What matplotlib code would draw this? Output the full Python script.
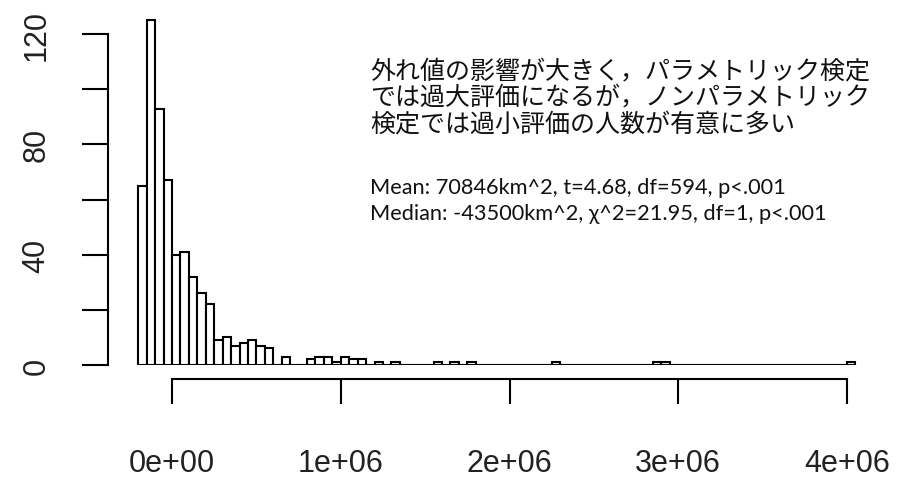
import numpy as np
import matplotlib.pyplot as plt

# histogram of area differences (km^2), 50000-wide bins, R-style hist look
bin_width = 50000
bin_lo, bin_hi = -200000, 4050000

# left edge of every non-empty bin and its count
bin_left = [-200000, -150000, -100000, -50000, 0, 50000, 100000, 150000,
            200000, 250000, 300000, 350000, 400000, 450000, 500000, 550000,
            650000, 800000, 850000, 900000, 950000, 1000000, 1050000, 1100000,
            1200000, 1300000, 1550000, 1650000, 1750000, 2250000, 2850000,
            2900000, 4000000]
counts = [65, 125, 93, 67, 40, 41, 32, 26,
          22, 9, 10, 7, 8, 9, 7, 6,
          3, 2, 3, 3, 1, 3, 2, 2,
          1, 1, 1, 1, 1, 1, 1,
          1, 1]

x_ticks = [0, 1e6, 2e6, 3e6, 4e6]
x_labels = ['0e+00', '1e+06', '2e+06', '3e+06', '4e+06']
y_ticks = [0, 20, 40, 60, 80, 100, 120]
y_labels = ['0', '', '40', '', '80', '', '120']

note_lines = ['外れ値の影響が大きく，パラメトリック検定',
              'では過大評価になるが，ノンパラメトリック',
              '検定では過小評価の人数が有意に多い']
stat_lines = ['Mean: 70846km^2, t=4.68, df=594, p<.001',
              'Median: -43500km^2, χ^2=21.95, df=1, p<.001']

# full grid of bins, empty ones stay at zero (drawn as flat outlines like R)
edges = np.arange(bin_lo, bin_hi + 1, bin_width)
full = np.zeros(len(edges) - 1)
for left, c in zip(bin_left, counts):
    full[int(round((left - bin_lo) / bin_width))] = c

W, H = 915, 481
fig = plt.figure(figsize=(W / 100, H / 100), dpi=100)
fig.patch.set_facecolor('white')

# axes box in pixels: left 120, right 880, baseline at 366, top at 13
ax = fig.add_axes([120 / W, (H - 366) / H, 760 / W, 353 / H])
px_per_unit = 168.75 / 1e6
ax.set_xlim((120 - 172) / px_per_unit, (880 - 172) / px_per_unit)
ax.set_ylim(0, 353 / 2.758)

ax.bar(edges[:-1], full, width=bin_width, align='edge',
       facecolor='white', edgecolor='black', linewidth=1.5)

for s in ['top', 'right']:
    ax.spines[s].set_visible(False)
ax.spines['left'].set_position(('outward', 12 * 0.72))
ax.spines['bottom'].set_position(('outward', 14 * 0.72))
ax.spines['left'].set_bounds(0, 120)
ax.spines['bottom'].set_bounds(0, 4e6)
for s in ['left', 'bottom']:
    ax.spines[s].set_linewidth(1.5)

ax.set_xticks(x_ticks)
ax.set_xticklabels(x_labels)
ax.set_yticks(y_ticks)
ax.set_yticklabels(y_labels, rotation=90, va='center')
ax.tick_params(axis='x', length=18, width=1.5, pad=32, labelsize=22)
ax.tick_params(axis='y', length=18.7, width=1.5, pad=22, labelsize=22)
for lab in ax.get_xticklabels() + ax.get_yticklabels():
    lab.set_family('Liberation Sans')
    lab.set_color('#222222')

# annotation block (figure pixel coordinates, top-left origin)
for i, line in enumerate(note_lines):
    fig.text(370 / W, 1 - (72 + i * 26.3) / H, line, fontsize=18,
             family=['Noto Sans CJK JP', 'DejaVu Sans'], va='center', ha='left',
             color='#111111')
for i, line in enumerate(stat_lines):
    fig.text(370 / W, 1 - (194 + i * 26) / H, line, fontsize=15.7,
             family=['Lato', 'DejaVu Sans'], va='baseline', ha='left',
             color='#111111')

fig.savefig('out.png', dpi=100, facecolor='white')
